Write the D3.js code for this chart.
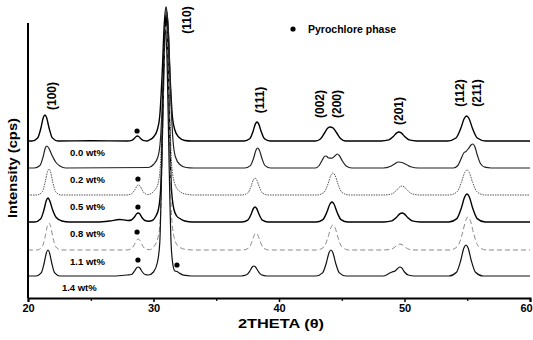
<!DOCTYPE html>
<html>
<head>
<meta charset="utf-8">
<script src="https://cdn.jsdelivr.net/npm/d3@7"></script>
<style>
  html, body { margin: 0; padding: 0; background: #fff; }
  svg { display: block; font-family: "Liberation Sans", Arial, sans-serif; }
</style>
</head>
<body>
<div id="chart"></div>
<script>
// sample names and vertical offsets (cps) of each stacked pattern
const samples = ['0.0 wt%', '0.2 wt%', '0.5 wt%', '0.8 wt%', '1.1 wt%', '1.4 wt%'];
const offsets = [1570, 1300, 1030, 760, 480, 220];
const labelX = [23.35, 23.35, 23.35, 23.35, 23.35, 22.7];

// [2theta, intensity above baseline]
const pattern0 = [[20,0],[20.31,0],[20.77,31],[21.03,130],[21.22,234],[21.35,260],[21.48,234],[21.68,130],[21.94,31],[22.39,0],
  [25,2],[27.92,0],[28.27,6],[28.47,25],[28.62,45],[28.72,50],[28.82,45],[28.97,25],[29.17,6],[29.52,0],
  [29.6,5],[30.0,40],[30.3,110],[30.5,250],[30.7,700],[30.85,1150],[31.0,1340],[31.15,1150],[31.3,700],[31.5,250],[31.7,110],[32.0,40],[32.5,5],[33.0,0],
  [37.21,0],[37.67,23],[37.93,95],[38.12,171],[38.25,190],[38.38,171],[38.58,95],[38.84,23],[39.29,0],
  [42.9,0],[43.3,20],[43.6,75],[43.85,125],[44.05,140],[44.3,132],[44.6,80],[44.9,25],[45.3,0],
  [48.12,0],[48.75,11],[49.11,45],[49.38,81],[49.56,90],[49.74,81],[50.01,45],[50.37,11],[51.0,0],
  [53.43,0],[54.1,30],[54.48,125],[54.76,225],[54.95,250],[55.14,225],[55.42,125],[55.8,30],[56.47,0],[60,0]];
const pattern1 = [[20,0],[20.5,0],[20.95,25],[21.2,110],[21.38,200],[21.5,220],[21.65,200],[21.9,130],[22.2,60],[22.55,20],[23.0,0],
  [29.6,5],[30.0,35],[30.35,110],[30.55,280],[30.75,800],[30.9,1350],[31.05,1560],[31.2,1350],[31.35,800],[31.55,280],[31.75,110],[32.1,35],[32.6,5],[33.2,0],
  [37.26,0],[37.72,24],[37.98,100],[38.17,180],[38.3,200],[38.43,180],[38.63,100],[38.89,24],[39.34,0],
  [42.9,0],[43.2,25],[43.45,80],[43.65,118],[43.75,120],[43.95,100],[44.2,98],[44.45,120],[44.65,140],[44.8,125],[45.05,70],[45.35,20],[45.8,0],
  [48.3,0],[48.85,15],[49.2,40],[49.5,60],[49.8,55],[50.15,35],[50.5,12],[51.1,0],
  [53.9,0],[54.25,25],[54.5,90],[54.72,150],[54.9,165],[55.1,195],[55.3,230],[55.45,240],[55.6,215],[55.8,130],[56.05,45],[56.4,8],[56.9,0],[60,0]];
const pattern2 = [[20,0],[20.71,0],[21.13,31],[21.37,130],[21.55,234],[21.67,260],[21.79,234],[21.97,130],[22.21,31],[22.63,0],
  [27.84,0],[28.26,12],[28.5,50],[28.68,90],[28.8,100],[28.92,90],[29.1,50],[29.34,12],[29.6,5],
  [30.0,35],[30.35,110],[30.55,300],[30.72,900],[30.86,1500],[31.0,1750],[31.14,1500],[31.28,900],[31.45,300],[31.7,110],[32.05,40],[32.6,8],[33.2,0],
  [37.05,0],[37.51,20],[37.77,85],[37.96,153],[38.09,170],[38.22,153],[38.42,85],[38.68,20],[39.13,0],
  [43.02,0],[43.58,26],[43.9,110],[44.14,198],[44.3,220],[44.46,198],[44.7,110],[45.02,26],[45.58,0],
  [48.36,0],[48.99,11],[49.35,45],[49.62,81],[49.8,90],[49.98,81],[50.25,45],[50.61,11],[51.24,0],
  [53.54,0],[54.17,30],[54.53,125],[54.8,225],[54.98,250],[55.16,225],[55.43,125],[55.79,30],[56.42,0],[60,0]];
const pattern3 = [[20,0],[20.55,0],[21.0,29],[21.27,120],[21.46,216],[21.59,240],[21.72,216],[21.95,125],[22.25,45],[22.7,10],[23.3,0],
  [25.5,0],[26.5,10],[27.3,25],[27.8,18],
  [28.0,15],[28.24,20],[28.48,50],[28.66,82],[28.78,90],[28.9,82],[29.08,45],[29.32,15],[29.6,8],
  [29.9,15],[30.15,50],[30.4,130],[30.58,350],[30.74,1050],[30.87,1750],[31.0,2070],[31.13,1750],[31.26,1050],[31.42,350],[31.62,130],[31.85,60],[32.1,35],[32.5,10],[33.1,0],
  [37.05,0],[37.51,18],[37.77,75],[37.96,135],[38.09,150],[38.22,135],[38.42,75],[38.68,18],[39.13,0],
  [42.94,0],[43.5,24],[43.82,100],[44.06,180],[44.22,200],[44.38,180],[44.62,100],[44.94,24],[45.5,0],
  [48.36,0],[48.99,11],[49.35,45],[49.62,81],[49.8,90],[49.98,81],[50.25,45],[50.61,11],[51.24,0],
  [53.54,0],[54.17,34],[54.53,140],[54.8,252],[54.98,280],[55.16,252],[55.43,140],[55.79,34],[56.42,0],[60,0]];
const pattern4 = [[20,0],[20.71,0],[21.13,32],[21.37,135],[21.55,243],[21.67,270],[21.79,243],[21.97,135],[22.21,32],[22.63,0],
  [27.82,0],[28.24,13],[28.48,55],[28.66,99],[28.78,110],[28.9,99],[29.08,55],[29.32,13],[29.7,3],
  [30.0,30],[30.35,120],[30.55,320],[30.72,1100],[30.86,1900],[31.0,2250],[31.14,1900],[31.28,1100],[31.45,320],[31.7,100],[32.05,30],[32.6,5],[33.2,0],
  [37.13,0],[37.59,20],[37.85,85],[38.04,153],[38.17,170],[38.3,153],[38.5,85],[38.76,20],[39.21,0],
  [43.02,0],[43.58,30],[43.9,125],[44.14,225],[44.3,250],[44.46,225],[44.7,125],[45.02,30],[45.58,0],
  [48.36,0],[48.92,7],[49.24,30],[49.48,54],[49.64,60],[49.8,54],[50.04,30],[50.36,7],[50.92,0],
  [53.62,0],[54.25,40],[54.61,165],[54.88,297],[55.06,330],[55.24,297],[55.51,165],[55.87,40],[56.5,0],[60,0]];
const pattern5 = [[20,0],[20.63,0],[21.05,31],[21.29,130],[21.47,234],[21.59,260],[21.71,234],[21.89,130],[22.13,31],[22.55,0],
  [26.5,0],[27.5,5],[27.9,10],
  [28.24,15],[28.48,48],[28.66,82],[28.78,90],[28.9,82],[29.08,45],[29.32,15],[29.6,10],
  [30.0,40],[30.3,130],[30.5,330],[30.67,1200],[30.81,2100],[30.95,2460],[31.09,2100],[31.23,1200],[31.4,330],[31.55,110],[31.7,50],[31.87,45],[32.05,30],[32.4,8],[33.0,0],
  [36.96,0],[37.42,12],[37.68,50],[37.87,90],[38.0,100],[38.13,90],[38.33,50],[38.59,12],[39.04,0],
  [42.94,0],[43.47,31],[43.77,130],[43.99,234],[44.14,260],[44.29,234],[44.51,130],[44.81,31],[45.34,0],
  [48.3,0],[48.7,20],[49.0,40],[49.25,50],[49.45,75],[49.64,90],[49.8,78],[50.0,40],[50.3,10],[50.8,0],
  [53.54,0],[54.14,37],[54.48,155],[54.73,279],[54.9,310],[55.07,279],[55.32,155],[55.66,37],[56.26,0],[60,0]];
const patterns = [pattern0, pattern1, pattern2, pattern3, pattern4, pattern5];

// pyrochlore markers [2theta, absolute intensity]
const pyroDots = [[28.69,1670],[28.76,1190],[28.76,910],[28.69,660],[28.76,380],[31.87,330]];

// hkl labels [text, 2theta, absolute intensity of label centre]
const hklLabels = [['(100)',21.9,2020],['(110)',32.67,2780],['(111)',38.49,1980],['(002)',43.27,1940],
  ['(200)',44.62,1940],['(201)',49.56,1870],['(112)',54.42,2050],['(211)',55.78,2050]];

const xTicks = [20, 30, 40, 50, 60];
const xMinorTicks = [25, 35, 45, 55];

const lineStyles = [
  { stroke: '#000', width: 1.4, dash: null },
  { stroke: '#222', width: 1.2, dash: null },
  { stroke: '#555', width: 1.0, dash: '1.5,1' },
  { stroke: '#000', width: 1.4, dash: null },
  { stroke: '#8a8a8a', width: 1.0, dash: '5,3' },
  { stroke: '#111', width: 1.2, dash: null }
];

const width = 533, height = 340;
const svg = d3.select('#chart').append('svg')
  .attr('width', width)
  .attr('height', height);

const x = d3.scaleLinear().domain([20, 60]).range([28, 530]);
const y = d3.scaleLinear().domain([0, 2900]).range([298, 8]);

// patterns
const line = d3.line()
  .x(d => x(d[0]))
  .y(d => y(d[1]))
  .curve(d3.curveMonotoneX);

patterns.forEach((pts, i) => {
  const st = lineStyles[i];
  svg.append('path')
    .datum(pts.map(p => [p[0], p[1] + offsets[i]]))
    .attr('d', line)
    .attr('fill', 'none')
    .attr('stroke', st.stroke)
    .attr('stroke-width', st.width)
    .attr('stroke-dasharray', st.dash)
    .attr('stroke-linejoin', 'round');

  svg.append('text')
    .attr('x', x(labelX[i]))
    .attr('y', y(offsets[i]) + 15)
    .style('font-size', '9.5px')
    .style('font-weight', 'bold')
    .text(samples[i]);
});

// pyrochlore dots
svg.selectAll('circle.pyro')
  .data(pyroDots)
  .enter()
  .append('circle')
  .attr('class', 'pyro')
  .attr('cx', d => x(d[0]))
  .attr('cy', d => y(d[1]))
  .attr('r', 2.6)
  .attr('fill', '#000');

// hkl labels, rotated
svg.selectAll('text.hkl')
  .data(hklLabels)
  .enter()
  .append('text')
  .attr('class', 'hkl')
  .attr('transform', d => `translate(${x(d[1]) + 4},${y(d[2])}) rotate(-90)`)
  .attr('text-anchor', 'middle')
  .style('font-size', '12px')
  .style('font-weight', 'bold')
  .text(d => d[0]);

// axes
const xAxis = svg.append('g')
  .attr('transform', `translate(0,${y(0)})`)
  .call(d3.axisBottom(x).tickValues(xTicks).tickSize(4).tickFormat(d3.format('d')));
xAxis.select('.domain').attr('stroke-width', 2).attr('stroke', '#000');
xAxis.selectAll('.tick line').attr('stroke-width', 1.5);
xAxis.selectAll('.tick text')
  .attr('dy', '0.6em')
  .attr('dx', d => d === 60 ? -4 : 0)
  .style('font-size', '11px')
  .style('font-weight', 'bold')
  .style('font-family', '"Liberation Sans", Arial, sans-serif');

svg.append('g')
  .attr('transform', `translate(0,${y(0)})`)
  .call(d3.axisBottom(x).tickValues(xMinorTicks).tickSize(3).tickFormat(''))
  .call(g => g.select('.domain').remove())
  .selectAll('.tick line').attr('stroke-width', 1.2);

svg.append('line')
  .attr('x1', x(20)).attr('x2', x(20))
  .attr('y1', y(0)).attr('y2', 23)
  .attr('stroke', '#000')
  .attr('stroke-width', 2);

// axis titles
svg.append('text')
  .attr('x', 281)
  .attr('y', 328)
  .attr('text-anchor', 'middle')
  .attr('textLength', 86)
  .attr('lengthAdjust', 'spacingAndGlyphs')
  .style('font-size', '13px')
  .style('font-weight', 'bold')
  .text('2THETA (θ)');

svg.append('text')
  .attr('transform', 'translate(17,168) rotate(-90)')
  .attr('text-anchor', 'middle')
  .attr('textLength', 100)
  .attr('lengthAdjust', 'spacingAndGlyphs')
  .style('font-size', '13px')
  .style('font-weight', 'bold')
  .text('Intensity (cps)');

// legend
svg.append('circle')
  .attr('cx', 293).attr('cy', 29).attr('r', 2.6).attr('fill', '#000');
svg.append('text')
  .attr('x', 308).attr('y', 33)
  .style('font-size', '10.5px')
  .style('font-weight', 'bold')
  .text('Pyrochlore phase');
</script>
</body>
</html>
